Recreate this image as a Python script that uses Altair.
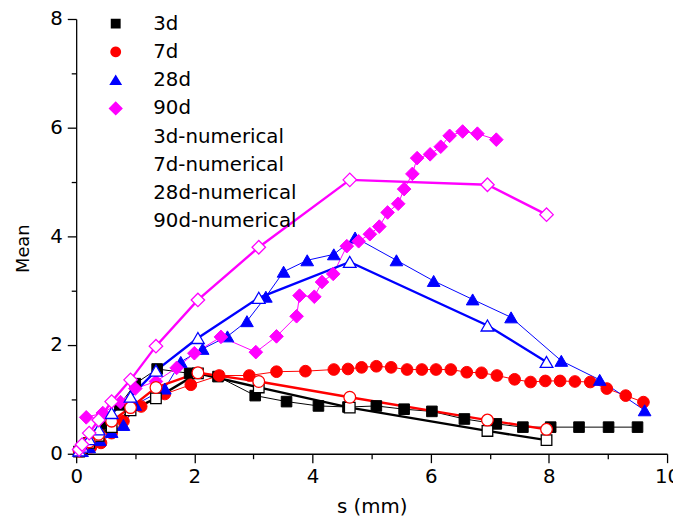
import math
import altair as alt
import pandas as pd

names = ["3d", "7d", "28d", "90d", "3d-numerical", "7d-numerical", "28d-numerical", "90d-numerical"]
colors = ["#000000", "#FF0000", "#0000FF", "#FF00FF", "#000000", "#FF0000", "#0000FF", "#FF00FF"]
fills = ["#000000", "#FF0000", "#0000FF", "#FF00FF", "#FFFFFF", "#FFFFFF", "#FFFFFF", "#FFFFFF"]

s_3d = [0.08, 0.2, 0.35, 0.5, 0.74, 1.0, 1.37, 1.92, 2.4, 3.03, 3.56, 4.1, 4.6, 5.08, 5.55, 6.02, 6.57, 7.11, 7.56, 8.03, 8.51, 9.01, 9.5]
m_3d = [0.05, 0.18, 0.33, 0.55, 0.9, 1.29, 1.56, 1.48, 1.42, 1.07, 0.96, 0.88, 0.86, 0.88, 0.82, 0.78, 0.64, 0.55, 0.49, 0.49, 0.49, 0.49, 0.49]

s_7d = [0.1, 0.25, 0.42, 0.6, 0.8, 1.1, 1.5, 1.94, 2.42, 2.93, 3.39, 3.88, 4.36, 4.6, 4.83, 5.08, 5.33, 5.6, 5.85, 6.09, 6.34, 6.61, 6.86, 7.12, 7.42, 7.69, 7.94, 8.19, 8.44, 8.7, 8.98, 9.3, 9.6]
m_7d = [0.05, 0.12, 0.2, 0.38, 0.6, 0.87, 1.1, 1.27, 1.44, 1.44, 1.51, 1.52, 1.55, 1.56, 1.59, 1.61, 1.59, 1.55, 1.55, 1.55, 1.55, 1.5, 1.49, 1.44, 1.37, 1.32, 1.34, 1.34, 1.33, 1.32, 1.2, 1.07, 0.95]

s_28d = [0.1, 0.22, 0.4, 0.6, 0.8, 1.0, 1.5, 1.77, 2.14, 2.56, 2.89, 3.21, 3.51, 3.91, 4.36, 4.72, 5.42, 6.05, 6.71, 7.36, 8.21, 8.86, 9.62]
m_28d = [0.05, 0.12, 0.25, 0.4, 0.53, 0.9, 1.2, 1.69, 1.93, 2.16, 2.44, 2.89, 3.35, 3.56, 3.67, 3.98, 3.56, 3.18, 2.84, 2.51, 1.71, 1.36, 0.8]

s_90d = [0.17, 0.45, 0.75, 1.0, 1.35, 1.7, 2.0, 2.45, 3.04, 3.39, 3.73, 3.78, 4.03, 4.16, 4.35, 4.58, 4.78, 4.97, 5.13, 5.27, 5.45, 5.55, 5.69, 5.77, 5.99, 6.17, 6.32, 6.54, 6.79, 7.11]
m_90d = [0.67, 0.75, 0.95, 1.2, 1.33, 1.58, 1.85, 2.15, 1.87, 2.16, 2.53, 2.91, 2.89, 3.16, 3.31, 3.82, 3.91, 4.04, 4.18, 4.44, 4.6, 4.87, 5.15, 5.44, 5.51, 5.65, 5.85, 5.93, 5.89, 5.78]

s_num = [0.05, 0.1, 0.22, 0.38, 0.6, 0.92, 1.35, 2.06, 3.09, 4.63, 6.96, 7.96]
m_3d_num = [0.04, 0.1, 0.2, 0.33, 0.49, 0.8, 1.02, 1.48, 1.22, 0.85, 0.42, 0.25]
m_7d_num = [0.05, 0.1, 0.22, 0.36, 0.6, 0.85, 1.22, 1.49, 1.33, 1.04, 0.62, 0.45]
m_28d_num = [0.06, 0.13, 0.27, 0.45, 0.75, 1.05, 1.53, 2.13, 2.87, 3.53, 2.36, 1.69]
m_90d_num = [0.08, 0.17, 0.38, 0.62, 0.96, 1.36, 1.98, 2.83, 3.8, 5.04, 4.95, 4.4]

x_major = [0, 2, 4, 6, 8, 10]
x_minor = [1, 3, 5, 7, 9]
y_major = [0, 2, 4, 6, 8]
y_minor = [1, 3, 5, 7]

line_w = [1, 1, 1, 1, 2.4, 2.4, 2.4, 2.4]
legend_lw = [1, 1, 1, 1, 2, 2, 2, 2]

series_xy = [
    (s_3d, m_3d), (s_7d, m_7d), (s_28d, m_28d), (s_90d, m_90d),
    (s_num, m_3d_num), (s_num, m_7d_num), (s_num, m_28d_num), (s_num, m_90d_num),
]
rows = []
for k, (name, (xs, ys)) in enumerate(zip(names, series_xy)):
    for xv, yv in zip(xs, ys):
        rows.append({"series": name, "s": xv, "mean": yv, "lw": line_w[k]})
df = pd.DataFrame(rows)

FONT = "DejaVu Sans"
plot_shapes = ["square", "circle", "triangle-up", "diamond"] * 2
plot_sizes = [115, 140, 165, 190, 115, 140, 165, 185]
plot_sw = [1, 1, 1, 1, 1.3, 1.3, 1.3, 1.3]

# legend glyphs (line + marker), unit coordinates for the default legend symbol size
seg = "M-5.3,0L-0.9,0M0.9,0L5.3,0"
circ_pts = [(1.1 * math.cos(2 * math.pi * k / 20), 1.1 * math.sin(2 * math.pi * k / 20)) for k in range(20)]
circ = "M" + "L".join(f"{a:.3f},{b:.3f}" for a, b in circ_pts) + "Z"
leg_paths = [
    seg + "M-1,-1L1,-1L1,1L-1,1Z",
    seg + circ,
    seg + "M0,-1.15L1.3,1L-1.3,1Z",
    seg + "M0,-1.45L1.45,0L0,1.45L-1.45,0Z",
]
leg_paths = leg_paths * 2

xscale = alt.Scale(domain=[0, 10], nice=False)
yscale = alt.Scale(domain=[0, 8], nice=False)

main_x = alt.Axis(values=x_major, orient="bottom", tickSize=9, grid=False, labelFont=FONT, labelFontSize=20,
                  labelColor="black", labelPadding=4, title="s (mm)", titleFont=FONT, titleFontSize=20,
                  titleFontWeight="normal", titleColor="black", titlePadding=10, domainColor="black",
                  domainWidth=1.3, tickColor="black", tickWidth=1.3, labelFlush=False, labelOverlap=False)
main_y = alt.Axis(values=y_major, orient="left", tickSize=9, grid=False, labelFont=FONT, labelFontSize=20,
                  labelColor="black", labelPadding=5, title="Mean", titleFont=FONT, titleFontSize=18,
                  titleFontWeight="normal", titleColor="black", titlePadding=18, titleY=232,
                  domainColor="black", domainWidth=1.3, tickColor="black", tickWidth=1.3, labelFlush=False,
                  labelOverlap=False)
minor_x = alt.Axis(values=x_minor, orient="bottom", tickSize=5, labels=False, domain=False, grid=False,
                   title=None, tickColor="black", tickWidth=1.3)
minor_y = alt.Axis(values=y_minor, orient="left", tickSize=5, labels=False, domain=False, grid=False,
                   title=None, tickColor="black", tickWidth=1.3)

base = alt.Chart(df)

lines = base.mark_line().encode(
    x=alt.X("s:Q", scale=xscale, axis=main_x),
    y=alt.Y("mean:Q", scale=yscale, axis=main_y),
    color=alt.Color("series:N", sort=names, scale=alt.Scale(domain=names, range=colors), legend=None),
    strokeWidth=alt.StrokeWidth("lw:Q", scale=None),
    detail="series:N",
    order=alt.Order("s:Q"),
)

layers = [lines]

# one single-entry legend per series, stacked in a column
for i, name in enumerate(names):
    leg_i = alt.Legend(
        title=None, orient="none", legendX=30, legendY=-5.3 + 28.6 * i,
        labelOffset=28, labelFont=FONT, labelFontSize=20,
        symbolStrokeWidth=legend_lw[i], symbolFillColor=fills[i], symbolStrokeColor=colors[i],
    )
    leg_layer = base.transform_filter(alt.datum.series == name).mark_point(
        size=1, opacity=1, filled=True,
    ).encode(
        x=alt.X("s:Q", scale=xscale, axis=None),
        y=alt.Y("mean:Q", scale=yscale, axis=None),
        shape=alt.Shape("series:N", scale=alt.Scale(domain=[name], range=[leg_paths[i]]), legend=leg_i),
        fill=alt.value(fills[i]),
        stroke=alt.value(colors[i]),
        strokeWidth=alt.value(legend_lw[i]),
    )
    layers.append(leg_layer)

for i, name in enumerate(names):
    if i == 0:
        xenc = alt.X("s:Q", scale=xscale, axis=minor_x)
        yenc = alt.Y("mean:Q", scale=yscale, axis=minor_y)
    else:
        xenc = alt.X("s:Q", scale=xscale, axis=None)
        yenc = alt.Y("mean:Q", scale=yscale, axis=None)
    pts = base.transform_filter(alt.datum.series == name).mark_point(
        shape=plot_shapes[i], size=plot_sizes[i], fill=fills[i], stroke=colors[i],
        strokeWidth=plot_sw[i], opacity=1, filled=True,
    ).encode(x=xenc, y=yenc)
    layers.append(pts)

chart = alt.layer(*layers).resolve_axis(x="independent", y="independent").resolve_scale(
    shape="independent"
).properties(
    width=598, height=440,
    autosize=alt.AutoSizeParams(type="none"),
    padding={"left": 69, "top": 8, "right": 6, "bottom": 72},
    background="white",
).configure_view(stroke=None)

chart.save("out.html", embed_options={"renderer": "svg", "actions": False})
